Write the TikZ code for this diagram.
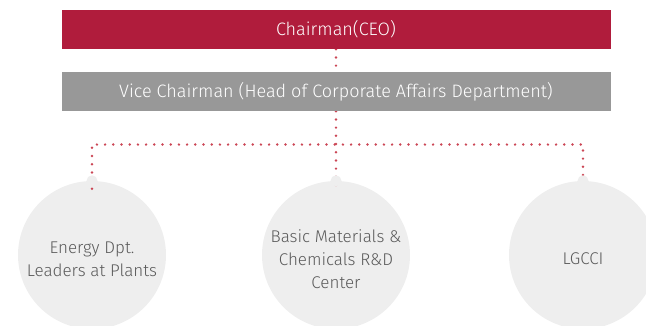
\documentclass[tikz,border=0pt]{standalone}
\usepackage{fontspec}
\setmainfont{Fira Sans Light}
\definecolor{lgred}{HTML}{B01C3C}
\definecolor{lggray}{HTML}{989898}
\definecolor{circfill}{HTML}{EEEEEE}
\definecolor{dotred}{HTML}{CB4655}
\definecolor{txtgray}{HTML}{5A5A5A}
\begin{document}
\begin{tikzpicture}[x=1pt,y=-1pt,
  bar/.style={minimum width=549pt,minimum height=39pt,inner sep=0pt,text=white,font=\fontsize{18}{21}\selectfont},
  redbar/.style={bar,fill=lgred},
  graybar/.style={bar,fill=lggray},
  circ/.style={circle,fill=circfill,minimum size=148pt,inner sep=0pt},
  ctext/.style={text=txtgray,align=center,inner sep=0pt,font=\fontsize{17}{23}\selectfont},
  dots/.style={dotred,line width=2.7pt,line cap=round,dash pattern=on 0pt off 8.2pt}]
\useasboundingbox (0,0) rectangle (646,325);
\clip (0,0) rectangle (646,325);
\node[redbar] (ceo) at (336,29.5) {Chairman(CEO)};
\node[graybar] (vice) at (336,91.5) {Vice Chairman (Head of Corporate Affairs Department)};
\coordinate (hub) at (336,144.5);
\node[circ] (c1) at (92,255) {};
\node[circ] (c2) at (336,255) {};
\node[circ] (c3) at (583,255) {};
\node[ctext] (t1) at (92,259) {Energy Dpt.\\Leaders at Plants};
\node[ctext] (t2) at (336,259) {Basic Materials \&\\Chemicals R\&D\\Center};
\node[ctext] (t3) at (583,259) {LGCCI};
\draw[dots] (ceo.south) -- (vice.north);
\draw[dots] (vice.south) -- (hub) -- ([yshift=-8pt]c2.north);
\draw[dots] ([yshift=-8pt]c1.north) -- (c1.north |- hub) -- (c3.north |- hub) -- ([yshift=-8pt]c3.north);
\foreach \c in {c1,c2,c3} \fill[circfill] (\c.north) circle (5.5pt);
\node[redbar] at (ceo) {Chairman(CEO)};
\node[graybar] at (vice) {Vice Chairman (Head of Corporate Affairs Department)};
\end{tikzpicture}
\end{document}
